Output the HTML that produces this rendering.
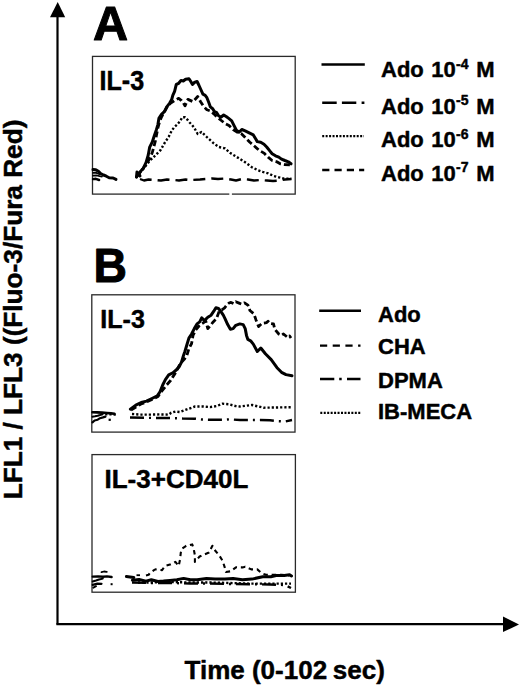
<!DOCTYPE html>
<html><head><meta charset="utf-8">
<style>
html,body{margin:0;padding:0;background:#fff;width:520px;height:685px;overflow:hidden}
svg{display:block}
text{font-family:"Liberation Sans",sans-serif;font-weight:bold;fill:#000;stroke:#000;stroke-width:0.45;stroke-linejoin:round}
.box{fill:none;stroke:#2a2a2a;stroke-width:1.3}
.ax{stroke:#000;stroke-width:2.2;fill:none}
.tr{fill:none;stroke:#000;stroke-linejoin:round;stroke-linecap:round}
.s{stroke-width:3}
.d{stroke-width:2.8;stroke-dasharray:6 3;stroke-linecap:butt}
.o{stroke-width:2.4;stroke-dasharray:2.2 2;stroke-linecap:butt}
.l{stroke-width:2.4;stroke-dasharray:12 6;stroke-linecap:butt}
.dd{stroke-width:2.4;stroke-dasharray:14 5 2 5;stroke-linecap:butt}
.sd{stroke-width:2;stroke-dasharray:6 4;stroke-linecap:butt}
</style></head>
<body>
<svg width="520" height="685" viewBox="0 0 520 685">
<!-- axes -->
<line class="ax" x1="57.5" y1="15" x2="57.5" y2="624.5"/>
<polygon points="57.7,2 50,17.3 65.2,17.3" fill="#000"/>
<line class="ax" x1="56.4" y1="624.2" x2="505" y2="624.2"/>
<polygon points="519,624.4 503,616.6 503,632" fill="#000"/>

<!-- y label -->
<text transform="translate(22,499.3) rotate(-90)" font-size="26.2">LFL1 / LFL3 ((Fluo-3/Fura Red)</text>
<!-- x label -->
<text x="184.5" y="678.5" font-size="26">Time (0-102 <tspan dx="-1.5">sec)</tspan></text>

<!-- panel letters -->
<text x="93.1" y="40.1" font-size="48.6" style="stroke-width:1">A</text>
<text transform="translate(93.4,282.3) scale(0.95,1)" font-size="48.8" style="stroke-width:1">B</text>

<!-- boxes -->
<rect class="box" x="92.5" y="56.4" width="202.7" height="137.7"/>
<rect x="229.3" y="192.8" width="2.6" height="2.6" fill="#fff"/>
<rect class="box" x="91.8" y="294.8" width="203.2" height="137.3"/>
<rect class="box" x="92" y="454.6" width="203.4" height="137.6"/>

<text transform="translate(99.5,90.2) scale(0.965,1.04)" font-size="26">IL-3</text>
<text transform="translate(100.3,327.8) scale(0.965,1.0)" font-size="26">IL-3</text>
<text x="104.5" y="487.7" font-size="26">IL-3+CD40L</text>

<!-- Panel A traces -->
<polyline class="tr s" style="stroke-width:3" points="93,169.6 95.8,169.8 98.7,171.6 100.6,173.5 103.5,175 106.3,176.2 109.2,177.8 113.1,178 116,179.4"/>
<polyline class="tr s" style="stroke-width:1.8" points="93,172.9 95.8,172.6 97.7,173.5 100,174.5"/>
<polyline class="tr s" style="stroke-width:1.8" points="93,175.6 96.7,175.5 99.6,176.2 102,176.5"/>
<polyline class="tr s" style="stroke-width:2.4" points="93,179.1 95.8,178.8 99.1,180"/>
<polyline class="tr s" points="136.5,177 137,172 139,174 140,176"/>
<polyline class="tr s" points="136.5,177 140,172 143.1,168.6 146.1,162.4 148.2,155.3 149.7,147.1 152.3,142 154.3,135.8 156.4,129.7 157.9,124.6 158.9,118.4 161.5,114.3 164.6,111.3 166.6,107.2 169.7,103.1 171.7,99.5 172.8,95.4 174.6,91.3 176.3,84.4 178.7,83.3 181,80.4 183.3,81 185.6,79.2 189,78.7 190.8,81.5 192.5,84.4 194.8,82.1 197.1,81.5 198.8,85 200.6,89 202.9,94.2 205.2,95.4 206.9,97.7 208.7,102.3 210.4,106.9 212.7,108.7 214.4,111.5 216.7,112.7 218.5,115.6 220.8,117.3 223.7,115 226.5,116.7 228.4,118.1 231.7,120.8 233.7,124.8 236.4,130.2 239.1,132.2 241.8,129.5 245.2,130.9 249.2,132.9 253.3,134.9 255.3,138.3 257.3,141.6 260.7,142.3 264,144.3 266.7,147 269.4,150.4 272.1,153.7 275.5,155.8 278.8,157.1 281.5,159.1 284.9,160.5 288.3,161.8 291,163.8"/>
<polyline class="tr d" points="136.5,177 140,172.5 143.5,168 147,163 150,158 152.3,152.5 153.5,148 155.4,141 156.5,135 157.9,128 159.5,122 161.5,117 164.5,111.5 167.6,106.1 170.7,103.1 174.6,100.6 178.7,98.3 181.5,100.6 183.3,102.9 185,105.8 187.9,99.4 193.1,101.7 197.7,96.5 200.6,101.7 203.5,106.3 206.9,109.8 210.4,111 213.8,113.8 216.2,116.2 220,119.5 225.4,123.7 229,125.5 233.1,129.5 237.1,132.2 241.2,133.6 245.2,137.6 249.9,142.3 254.6,146.3 259.3,150.4 264,153.1 268.1,157.1 272.1,160.5 276.8,161.8 280.2,163.8 284.2,164.5 291,165"/>
<polyline class="tr o" points="137,176 141,171.5 144,168 147,164 150.2,160.4 155.4,155.3 160.5,150.2 164.6,143 168.7,136.8 171.7,130.7 174.3,127.1 176.9,124.8 180.4,120.8 182.1,117.3 185,117.3 187.3,119.6 189.6,122.5 191.9,124.8 194.2,127.7 197.7,134 201.5,132 207.3,137.5 213,142.7 218.8,147 225,148.4 230.4,153.1 235.8,156.4 241.2,159.8 246.5,163.2 251.9,167.2 257.3,169.9 262.7,171.9 268.1,173.3 273.5,175.9 278.8,177.3 284.2,178.6 291.3,178.8"/>
<polyline class="tr l" points="140,179 144,180.5 148.5,179.5 155,180 161,180.5 167,179.5 173.7,180 179,180.5 185.5,179.5 190,180 200,179.5 206,179 212,178.5 218,179 225,178.5 231,179.5 236,180.5 242,179 248,179.5 254,180.5 260,180 267,180.5 273,181 279,180.5 285,179.5 291.5,179"/>
<!-- legend A -->
<line x1="321.5" y1="64.4" x2="364.8" y2="64.4" stroke="#000" stroke-width="2.5"/>
<line x1="322.2" y1="102.7" x2="364.4" y2="102.7" stroke="#000" stroke-width="2.5" stroke-dasharray="14.5 5.2 14.4 5.3 3"/>
<line x1="322.2" y1="136.2" x2="364" y2="136.2" stroke="#000" stroke-width="2.2" stroke-dasharray="2 1.45"/>
<line x1="322.2" y1="170" x2="364.2" y2="170" stroke="#000" stroke-width="2.4" stroke-dasharray="7.2 5.1"/>
<g font-size="22">
<text transform="translate(381,77) scale(1,1.04)">Ado <tspan dx="1.4">10</tspan><tspan font-size="14" dy="-8" dx="0.3">-4</tspan><tspan dy="8" dx="1.6"> M</tspan></text>
<text transform="translate(381,113.5) scale(1,1.04)">Ado <tspan dx="1.4">10</tspan><tspan font-size="14" dy="-8" dx="0.3">-5</tspan><tspan dy="8" dx="1.6"> M</tspan></text>
<text transform="translate(381,147) scale(1,1.04)">Ado <tspan dx="1.4">10</tspan><tspan font-size="14" dy="-8" dx="0.3">-6</tspan><tspan dy="8" dx="1.6"> M</tspan></text>
<text transform="translate(381,180.5) scale(1,1.04)">Ado <tspan dx="1.4">10</tspan><tspan font-size="14" dy="-8" dx="0.3">-7</tspan><tspan dy="8" dx="1.6"> M</tspan></text>
</g>

<!-- Panel B traces -->
<polyline class="tr s" style="stroke-width:2.6" points="92.5,412.2 97,412.4 102,412.6 107,413 111,413.4 114.5,413.8"/>
<polyline class="tr o" style="stroke-width:2.2" points="101,414.2 107,414.4 112,414.5 117,414.8"/>
<polyline class="tr s" style="stroke-width:2" points="92.5,416.7 95,416.3 97.7,415.8 100,415 102.5,414"/>
<polyline class="tr s" style="stroke-width:2.2" points="92.5,422.3 94.6,420.5 97.7,419.7 100,418.2 103,417.4 105.5,416.6"/>
<rect x="108.6" y="418.7" width="2.2" height="2.2" fill="#000"/>
<polyline class="tr s" points="130.4,409.2 135.8,405.2 141.2,402.5 146.5,401.1 151.9,398.5 157.3,395.8 160,391.7 162.7,385 165.4,379.6 168.7,374.9 172.8,372.9 176.8,369.5 179.5,366.2 181.5,362.1 183.5,355.4 184.9,351.5 186.9,344.8 188.9,338.1 191.6,334 194.3,328.6 197,323.9 199.7,321.9 201.7,317.9 204.4,320.6 207.8,317.2 211.1,315.2 213.8,311.2 215.9,307.8 218.5,308.5 220.6,311.2 223.3,315.2 225,318.6 227.7,324.6 230.4,329.3 233.1,328.6 235.8,325.3 239.8,323.9 243.2,324.6 245.2,328.6 246.5,335.4 247.9,339.4 250.6,340.8 253.3,344.1 257.3,351.5 260.8,348 265.4,353.8 271.2,359.6 277,367.7 281.5,372.3 286,374.6 292,375.8"/>
<polyline class="tr d" points="131,410 136,407 141,404 146.5,402 152,399.5 158,396.5 161,392 164,388.4 166,385.7 170.8,380.3 172.8,376.9 176,372 180.2,363.6 184.2,359.4 186.9,355.4 188.9,348.8 191.6,343.5 193,335.4 195.7,330 199,326 201.7,323.9 205.8,321.2 207.8,328.6 211.1,324.6 213.2,321.9 216.5,318.6 219.2,311.2 221.9,309.8 224.6,307.8 227.3,304.4 229,303 231,302.4 233.7,303.7 235.8,301.7 239.1,303.1 241.8,304.2 244.5,302.8 247.9,305.1 249.9,310.5 253.9,313.8 256,319.9 258.6,326.6 260.7,324.6 262,323.3 266.7,322.6 268.1,321.2 269.4,323.3 273.5,323.9 274.8,329.3 278.8,334 281.5,335.4 283.5,334 287.6,337.4 289.6,336 291,338"/>
<polyline class="tr dd" points="130,417.5 150,417.9 170,418 183,418.6 195,418.7 202,419.5 210,419.8 223,419.8 230,419.3 240,420 260,420 270,420.3 278,421.2 285,421.5 292,420"/>
<polyline class="tr o" points="132,414 140,414.6 150,414.6 160,414.4 168.8,414.6 171.2,412.7 175.8,411.5 180,412 186.9,409.4 195,406.5 203,406.5 210,407.1 216.9,406 222.7,403.7 228.5,404.2 235.4,406 240,406.5 252,405 263.5,407.7 275,407.5 291,407.2"/>
<!-- legend B -->
<line x1="319.2" y1="310.8" x2="361" y2="310.8" stroke="#000" stroke-width="2.4"/>
<line x1="320" y1="345.6" x2="360.5" y2="345.6" stroke="#000" stroke-width="2.4" stroke-dasharray="7.2 5.5"/>
<line x1="320" y1="379.1" x2="360.5" y2="379.1" stroke="#000" stroke-width="2.5" stroke-dasharray="14.3 4.9 2.5 5.3 14"/>
<line x1="320.3" y1="412.8" x2="361" y2="412.8" stroke="#000" stroke-width="2.2" stroke-dasharray="2 1.45"/>
<g font-size="22">
<text transform="translate(378,322.2) scale(1,1.02)">Ado</text>
<text transform="translate(378,354.2) scale(1,1.02)">CHA</text>
<text transform="translate(378,387.6) scale(1,1.02)">DPMA</text>
<text transform="translate(378,419.4) scale(1,1.02)">IB-MECA</text>
</g>

<!-- Panel C traces -->
<polyline class="tr s" style="stroke-width:2.4" points="92.7,576.6 98,576.4 103,576.8 107,576.4 111.6,577"/>
<polyline class="tr s" style="stroke-width:1.8" points="101.5,572.2 104,571.5 106.8,571.8"/>
<polyline class="tr s" style="stroke-width:2" points="92.7,581.5 96,580.5 99,579.5 102.8,578.6"/>
<polyline class="tr s" style="stroke-width:2.2" points="92.7,584.9 97.4,583.6 101.5,583.8"/>
<polyline class="tr s" style="stroke-width:2" points="93.4,587.6 96,586.2"/>
<rect x="110.6" y="583.2" width="2" height="2" fill="#000"/>
<polyline class="tr s" points="126.4,576.5 130,577 133.8,577.5"/>
<line x1="136.5" y1="575.2" x2="140" y2="575.2" stroke="#000" stroke-width="1.8"/>
<polyline class="tr s" points="132.4,580.2 139.1,579.5 145.9,581.1 151.3,579.7 158,581.5 163.5,581.1 170,580.4 176.9,579.7 183.6,578.4 190.4,579.7 197.1,579.7 206.5,578.4 215,578.9 225,579.1 233.1,578.4 242.5,579.7 251.9,579.1 262.7,576.8 270.8,576.8 276.1,575.5 284.2,575.5 289.6,574.8 291.5,576"/>
<polyline class="tr d" style="stroke-width:2.1;stroke-dasharray:4.5 3.8" points="146,575.5 148.6,574.8 150,572.8 154,570.1 155.4,569.4 162.1,570.1 164.8,566.1 170,564.6 175.4,561.9 178.7,566 180.1,559.2 180.8,552.5 182.1,548.5 186.2,545.8 192.2,544.4 193.6,548.5 194.9,555.2 194.9,561.9 199.6,556.5 204.3,554.5 209,552.5 212.4,545.8 215.1,550.5 219.1,555.2 222.5,560.6 224.5,566.6 225.9,572 230.6,571.3 236,567.3 242.5,567.4 245.2,566.7 251.2,569.4 257.3,569.4 262,573.5 266,574.8 273.5,574.8 281.5,574.8 289.6,575.5"/>
<polyline class="tr dd" points="132,582.5 150,583 170,583 190,583.5 210,583.5 230,584 250,584.2 270,584.5 285,585 291,588"/>
<polyline class="tr o" points="138,582.5 150,582.5 170,582 190,582.5 210,582.5 230,583 250,583.6 270,583.6 291,583.6"/>
</svg>
</body></html>
